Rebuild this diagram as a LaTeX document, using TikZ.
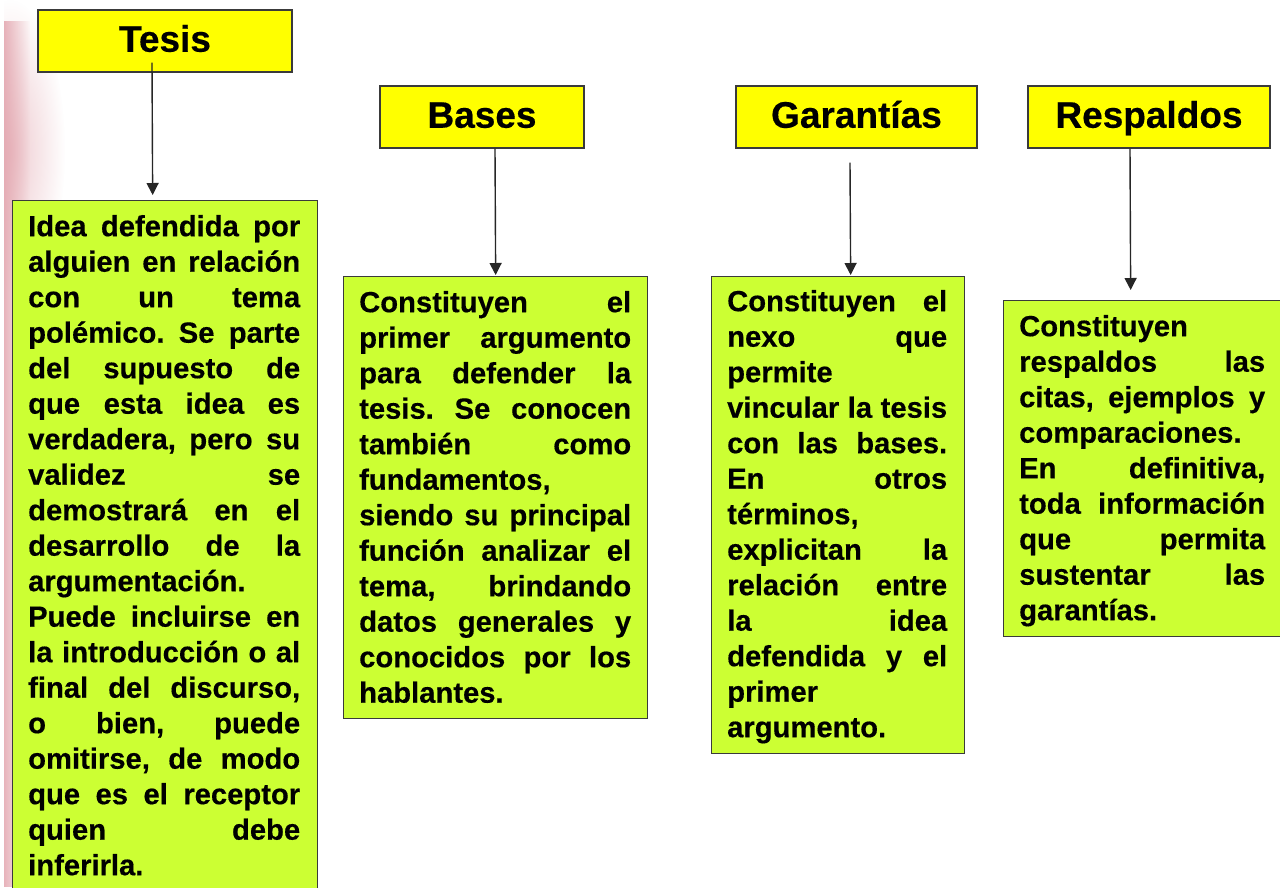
\documentclass[tikz,border=0pt]{standalone}
\usepackage{fontspec}
\setmainfont{Liberation Sans}[BoldFeatures={FakeBold=0.4}]
\usetikzlibrary{arrows.meta,calc,fadings}
\definecolor{hdr}{HTML}{FFFF00}
\definecolor{bdy}{HTML}{CCFF33}
\definecolor{edgec}{HTML}{3A3A3A}
\definecolor{pinkdeco}{HTML}{E3A6AF}
\tikzfading[name=fadeeast, left color=transparent!0, right color=transparent!100]
\tikzfading[name=softcircle, inner color=transparent!0, outer color=transparent!100]
\newcommand\bstrut{\rule[-8.9pt]{0pt}{35.5pt}}
\newcommand\JJ[1]{\hbox to \hsize{\bstrut #1}}
\newcommand\LL[1]{\hbox to \hsize{\bstrut #1\hfil}}
\tikzset{
  hdrbox/.style={draw=edgec, line width=1.3pt, fill=hdr, inner sep=0pt,
    text height=26.5pt, text depth=5pt,
    font=\fontsize{37pt}{40pt}\selectfont\bfseries},
  bodybox/.style={draw=edgec, line width=1.3pt, fill=bdy, inner sep=0pt, anchor=north west},
  bodytext/.style={inner sep=0pt, anchor=north west, align=left,
    font=\fontsize{29.2pt}{35.5pt}\selectfont\bfseries},
  arr/.style={draw=black!85, line width=1.4pt, -{Triangle[length=12pt,width=12pt]}}
}
\begin{document}
\begin{tikzpicture}[x=1pt,y=-1pt]
\useasboundingbox (0,0) rectangle (1280,887);
\clip (0,0) rectangle (1280,887);
\fill[white] (0,0) rectangle (1280,887);
% pink decoration on the left edge
\begin{scope}
\clip (4,0) rectangle (200,887);
\fill[pinkdeco, opacity=0.85, path fading=fadeeast] (4,20) rectangle (30,887);
\fill[pinkdeco, opacity=0.6, path fading=softcircle] (10,150) ellipse [x radius=55pt, y radius=150pt];
\end{scope}

% header boxes
\node[hdrbox, minimum width=254pt, minimum height=62pt] (tesis) at (165,41) {Tesis};
\node[hdrbox, minimum width=204pt, minimum height=62pt] (bases) at (482,117) {Bases};
\node[hdrbox, minimum width=241pt, minimum height=62pt] (gar) at (856.5,117) {Garantías};
\node[hdrbox, minimum width=242pt, minimum height=62pt] (resp) at (1149,117) {Respaldos};

% body boxes
\node[bodybox, minimum width=305pt, minimum height=720pt] (tesisB) at (12,200) {};
\node[bodybox, minimum width=304pt, minimum height=442pt] (basesB) at (343,276) {};
\node[bodybox, minimum width=253pt, minimum height=477pt] (garB) at (711,276) {};
\node[bodybox, minimum width=290pt, minimum height=336pt] (respB) at (1003,300) {};

% body texts
\node[bodytext, text width=272pt] (tesisT) at ($(tesisB.north west)+(16,9.4)$) {%
\JJ{Idea\hfill defendida\hfill por}
\JJ{alguien\hfill en\hfill relación}
\JJ{con\hfill un\hfill tema}
\JJ{polémico.\hfill Se\hfill parte}
\JJ{del\hfill supuesto\hfill de}
\JJ{que\hfill esta\hfill idea\hfill es}
\JJ{verdadera,\hfill pero\hfill su}
\JJ{validez\hfill se}
\JJ{demostrará\hfill en\hfill el}
\JJ{desarrollo\hfill de\hfill la}
\LL{argumentación.}
\JJ{Puede\hfill incluirse\hfill en}
\JJ{la\hfill introducción\hfill o\hfill al}
\JJ{final\hfill del\hfill discurso,}
\JJ{o\hfill bien,\hfill puede}
\JJ{omitirse,\hfill de\hfill modo}
\JJ{que\hfill es\hfill el\hfill receptor}
\JJ{quien\hfill debe}
\LL{inferirla.}};

\node[bodytext, text width=272pt] (basesT) at ($(basesB.north west)+(16,9.4)$) {%
\JJ{Constituyen\hfill el}
\JJ{primer\hfill argumento}
\JJ{para\hfill defender\hfill la}
\JJ{tesis.\hfill Se\hfill conocen}
\JJ{también\hfill como}
\LL{fundamentos,}
\JJ{siendo\hfill su\hfill principal}
\JJ{función\hfill analizar\hfill el}
\JJ{tema,\hfill brindando}
\JJ{datos\hfill generales\hfill y}
\JJ{conocidos\hfill por\hfill los}
\LL{hablantes.}};

\node[bodytext, text width=220pt] (garT) at ($(garB.north west)+(16,8.4)$) {%
\JJ{Constituyen\hfill el}
\JJ{nexo\hfill que}
\LL{permite}
\JJ{vincular\hfill la\hfill tesis}
\JJ{con\hfill las\hfill bases.}
\JJ{En\hfill otros}
\LL{términos,}
\JJ{explicitan\hfill la}
\JJ{relación\hfill entre}
\JJ{la\hfill idea}
\JJ{defendida\hfill y\hfill el}
\LL{primer}
\LL{argumento.}};

\node[bodytext, text width=246pt] (respT) at ($(respB.north west)+(16,9.4)$) {%
\LL{Constituyen}
\JJ{respaldos\hfill las}
\JJ{citas,\hfill ejemplos\hfill y}
\LL{comparaciones.}
\JJ{En\hfill definitiva,}
\JJ{toda\hfill información}
\JJ{que\hfill permita}
\JJ{sustentar\hfill las}
\LL{garantías.}};

% connectors
\draw[arr] ($(tesis.south)+(-13,-10)$) -- ($(tesisB.north)+(-12.5,-5)$);
\draw[arr] ($(bases.south)+(13,0)$) -- ($(basesB.north)+(0,-1)$);
\draw[arr] ($(gar.south)+(-6.5,14)$) -- ($(garB.north)+(12.5,-1)$);
\draw[arr] ($(resp.south)+(-19,0)$) -- ($(respB.north)+(-18,-10)$);
\end{tikzpicture}
\end{document}
